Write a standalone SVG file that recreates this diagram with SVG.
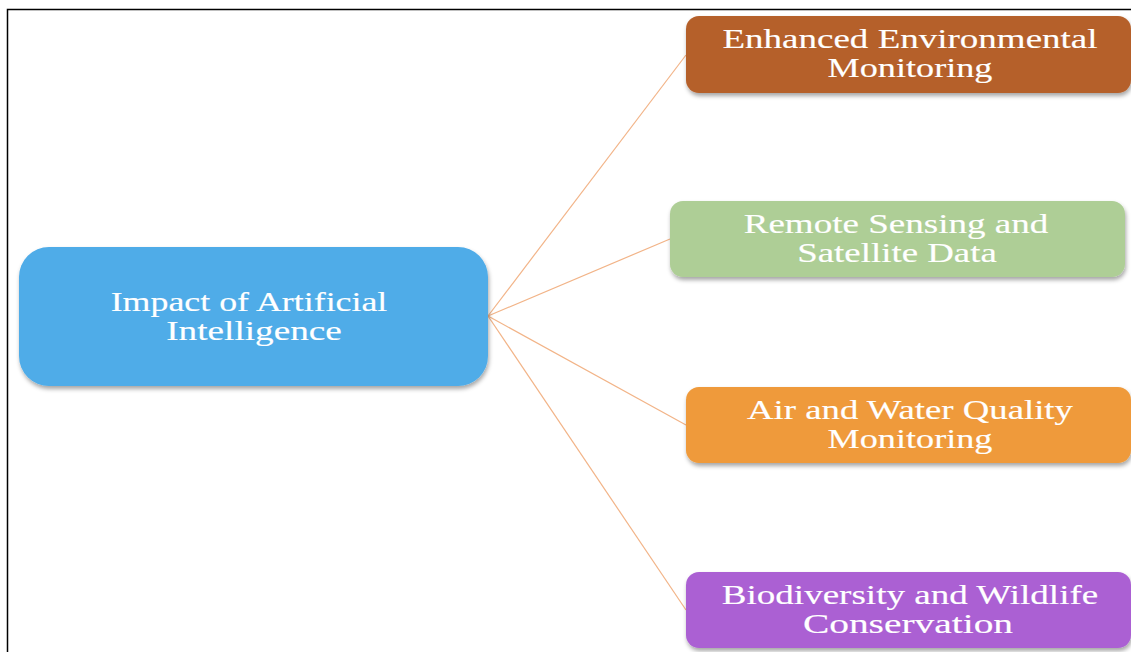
<svg xmlns="http://www.w3.org/2000/svg" width="1131" height="652" viewBox="0 0 1131 652">
<defs>
<filter id="sh" x="-5%" y="-10%" width="110%" height="130%">
<feDropShadow dx="1" dy="3" stdDeviation="2" flood-color="#000" flood-opacity="0.35"/>
</filter>
<style>
.box{filter:url(#sh);}
.t{font-family:"Liberation Serif","Times New Roman",serif;fill:#fff;stroke:#fff;stroke-width:0.15;font-size:27px;text-anchor:middle;}
.c{stroke:#F2B488;stroke-width:1.2;fill:none;}
</style>
</defs>
<rect width="1131" height="652" fill="#fff"/>
<path d="M7.5 652 V9.5 H1131" fill="none" stroke="#000" stroke-width="1.5"/>
<g id="connectors">
<line class="c" x1="488" y1="316" x2="686" y2="55"/>
<line class="c" x1="488" y1="316" x2="670" y2="239"/>
<line class="c" x1="488" y1="316" x2="686" y2="425"/>
<line class="c" x1="488" y1="316" x2="686" y2="610"/>
</g>
<g id="center">
<rect class="box" x="19" y="247" width="469" height="139" rx="30" fill="#4FACE8"/>
<text class="t" transform="translate(249 311) scale(1.33 1)" textLength="208" lengthAdjust="spacingAndGlyphs">Impact of Artificial</text>
<text class="t" transform="translate(254 340) scale(1.33 1)" textLength="132" lengthAdjust="spacingAndGlyphs">Intelligence</text>
</g>
<g id="n1">
<rect class="box" x="686" y="16" width="445" height="77" rx="13" fill="#B5602B"/>
<text class="t" transform="translate(910 48) scale(1.33 1)" textLength="282" lengthAdjust="spacingAndGlyphs">Enhanced Environmental</text>
<text class="t" transform="translate(910 77) scale(1.33 1)" textLength="124" lengthAdjust="spacingAndGlyphs">Monitoring</text>
</g>
<g id="n2">
<rect class="box" x="670" y="201" width="455" height="76" rx="13" fill="#AECE96"/>
<text class="t" transform="translate(896 233) scale(1.33 1)" textLength="229" lengthAdjust="spacingAndGlyphs">Remote Sensing and</text>
<text class="t" transform="translate(897 262) scale(1.33 1)" textLength="150" lengthAdjust="spacingAndGlyphs">Satellite Data</text>
</g>
<g id="n3">
<rect class="box" x="686" y="387" width="445" height="76" rx="13" fill="#EF9A3A"/>
<text class="t" transform="translate(910 419) scale(1.33 1)" textLength="245" lengthAdjust="spacingAndGlyphs">Air and Water Quality</text>
<text class="t" transform="translate(910 448) scale(1.33 1)" textLength="124" lengthAdjust="spacingAndGlyphs">Monitoring</text>
</g>
<g id="n4">
<rect class="box" x="686" y="572" width="445" height="76" rx="13" fill="#AB61D3"/>
<text class="t" transform="translate(910 604) scale(1.33 1)" textLength="283" lengthAdjust="spacingAndGlyphs">Biodiversity and Wildlife</text>
<text class="t" transform="translate(908 633) scale(1.33 1)" textLength="158" lengthAdjust="spacingAndGlyphs">Conservation</text>
</g>
</svg>
